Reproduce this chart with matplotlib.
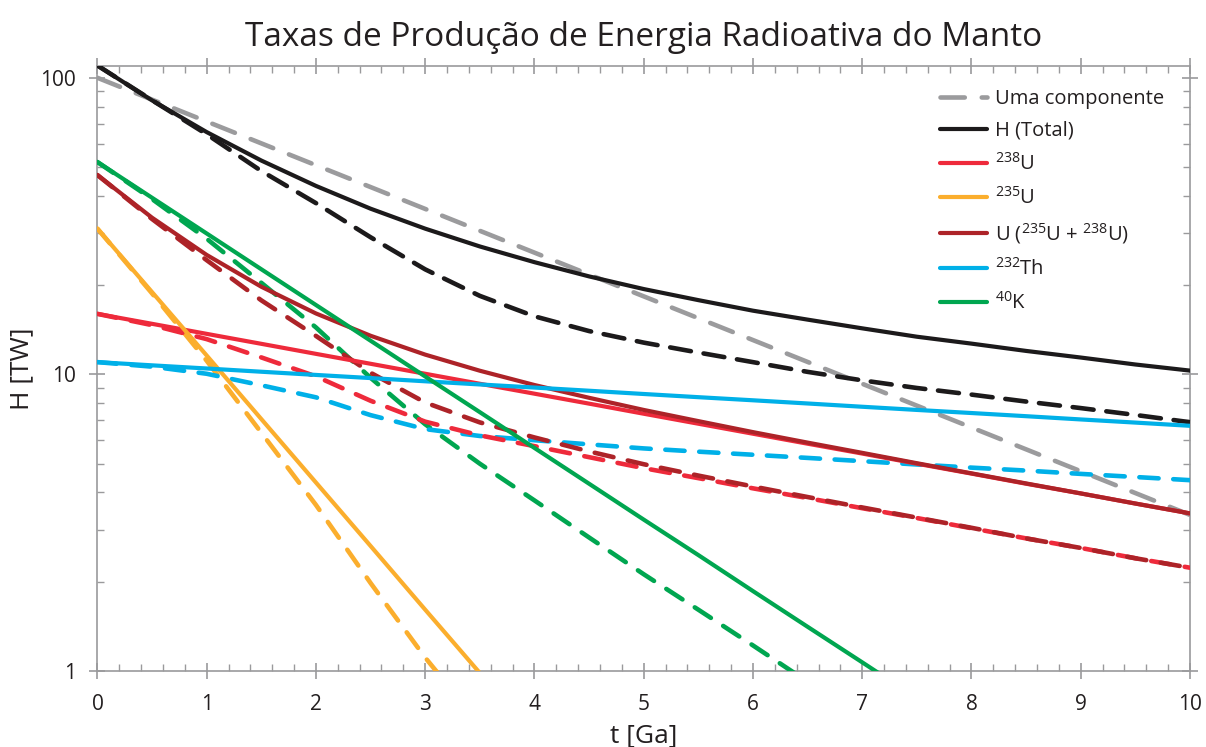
import matplotlib
matplotlib.use("Agg")
import matplotlib.pyplot as plt
from matplotlib.ticker import FixedLocator, MultipleLocator, LogLocator, NullFormatter, FixedFormatter

plt.rcParams['font.family'] = ['Open Sans', 'DejaVu Sans']
plt.rcParams['mathtext.fontset'] = 'custom'
plt.rcParams['mathtext.rm'] = 'Open Sans'

# ---- data ----
t = [0, 0.5, 1, 1.5, 2, 2.5, 3, 3.5, 4, 4.5, 5, 5.5, 6, 6.5, 7, 7.5, 8, 8.5, 9, 9.5, 10]

t_single = [0, 10]
h_single = [100, 3.36]

h_total = [110.0, 83.9, 65.6, 52.6, 43.2, 36.2, 31.0, 27.0, 23.9, 21.4, 19.4, 17.8, 16.4,
           15.3, 14.3, 13.4, 12.7, 12.0, 11.4, 10.8, 10.3]
u238 = [16.0, 14.81, 13.70, 12.68, 11.73, 10.86, 10.05, 9.30, 8.61, 7.97, 7.37, 6.82, 6.31,
        5.84, 5.41, 5.00, 4.63, 4.28, 3.97, 3.67, 3.40]
u235 = [31.0, 18.94, 11.58, 7.07, 4.32, 2.64, 1.61, 0.985, 0.60, 0.37, 0.22, 0.137, 0.084,
        0.051, 0.031, 0.019, 0.012, 0.007, 0.0043, 0.0026, 0.0016]
u_tot = [47.0, 33.75, 25.28, 19.75, 16.05, 13.50, 11.66, 10.29, 9.21, 8.34, 7.59, 6.96, 6.39,
         5.89, 5.44, 5.02, 4.64, 4.29, 3.97, 3.67, 3.40]
th232 = [11.0, 10.73, 10.47, 10.21, 9.96, 9.72, 9.48, 9.25, 9.03, 8.81, 8.59, 8.38, 8.18,
         7.98, 7.78, 7.59, 7.41, 7.23, 7.05, 6.88, 6.71]
k40 = [52.0, 39.40, 29.86, 22.62, 17.14, 12.99, 9.84, 7.46, 5.65, 4.28, 3.24, 2.46, 1.86,
       1.41, 1.07, 0.81, 0.61, 0.47, 0.35, 0.27, 0.20]

h_total_d = [110.0, 84.0, 64.5, 48.5, 37.8, 29.0, 22.6, 18.4, 15.7, 14.0, 12.8, 11.85, 11.0,
             10.2, 9.55, 9.0, 8.55, 8.1, 7.7, 7.3, 6.9]
u238_d = [16.0, 14.66, 13.15, 11.41, 9.85, 8.15, 6.93, 6.23, 5.73, 5.26, 4.83, 4.47, 4.13,
          3.83, 3.54, 3.28, 3.03, 2.80, 2.60, 2.40, 2.23]
u235_d = [31.0, 18.75, 11.12, 6.36, 3.63, 1.98, 1.11, 0.66, 0.40, 0.24, 0.146, 0.090, 0.055,
          0.033, 0.020, 0.012, 0.0079, 0.0048, 0.0028, 0.0017, 0.0010]
u_tot_d = [47.0, 33.41, 24.27, 17.77, 13.48, 10.13, 8.04, 6.89, 6.13, 5.50, 4.98, 4.56, 4.19,
           3.86, 3.56, 3.29, 3.04, 2.80, 2.60, 2.40, 2.23]
th232_d = [11.0, 10.62, 10.05, 9.19, 8.37, 7.29, 6.54, 6.20, 6.00, 5.81, 5.63, 5.49, 5.36,
           5.23, 5.10, 4.97, 4.85, 4.74, 4.62, 4.51, 4.40]
k40_d = [52.0, 39.01, 28.67, 20.36, 14.40, 9.74, 6.79, 5.00, 3.76, 2.82, 2.12, 1.61, 1.22,
         0.92, 0.70, 0.53, 0.40, 0.31, 0.23, 0.18, 0.13]

labels = ['Uma componente', 'H (Total)', r'$\mathregular{^{238}}$U', r'$\mathregular{^{235}}$U',
          r'U ($\mathregular{^{235}}$U + $\mathregular{^{238}}$U)', r'$\mathregular{^{232}}$Th',
          r'$\mathregular{^{40}}$K']

C_GREY = '#9b9b9d'
C_BLACK = '#1c1a1b'
C_RED = '#ee2a3b'
C_ORANGE = '#fbae2d'
C_DRED = '#ad2328'
C_BLUE = '#00b0e8'
C_GREEN = '#00a650'

fig = plt.figure(figsize=(12.06, 7.47), dpi=100)
ax = fig.add_axes([0.0808, 0.1017, 0.9059, 0.8106])

LW = 3.0
LWD = 3.3
dash_col = (4.2, 3.2)
dash_blk = (4.6, 2.8)
dash_gry = (5.3, 3.7)

# single-component model
hg, = ax.plot(t_single, h_single, color=C_GREY, lw=LWD, dashes=dash_gry,
              dash_capstyle='round', label=labels[0], zorder=2)

# dashed curves
dashed = [(u235_d, C_ORANGE), (k40_d, C_GREEN), (th232_d, C_BLUE),
          (u238_d, C_RED), (u_tot_d, C_DRED), (h_total_d, C_BLACK)]
for vals, c in dashed:
    ax.plot(t, vals, color=c, lw=LWD, dashes=dash_blk if c == C_BLACK else dash_col,
            dash_capstyle='round', zorder=3)

# solid curves
solid = [(h_total, C_BLACK), (u238, C_RED), (u235, C_ORANGE), (u_tot, C_DRED),
         (th232, C_BLUE), (k40, C_GREEN)]
handles = [hg]
for (vals, c), lab in zip(solid, labels[1:]):
    h, = ax.plot(t, vals, color=c, lw=LW, solid_capstyle='round', label=lab, zorder=4)
    handles.append(h)

ax.set_yscale('log')
ax.set_xlim(0, 10)
ax.set_ylim(1, 110)

ax.xaxis.set_major_locator(MultipleLocator(1))
ax.xaxis.set_minor_locator(MultipleLocator(0.2))
ax.yaxis.set_major_locator(FixedLocator([1, 10, 100]))
ax.yaxis.set_major_formatter(FixedFormatter(['1', '10', '100']))
ax.yaxis.set_minor_locator(LogLocator(base=10, subs=range(2, 10)))
ax.yaxis.set_minor_formatter(NullFormatter())

TC = '#9a9a9c'
for s in ax.spines.values():
    s.set_color(TC)
    s.set_linewidth(1.2)
ax.tick_params(which='major', direction='inout', length=11, width=1.2, color=TC,
               top=True, right=True, labelsize=15, labelcolor='#231f20')
ax.tick_params(axis='x', which='major', pad=11)
ax.tick_params(axis='y', which='major', pad=10)
ax.tick_params(which='minor', direction='in', length=5, width=1.0, color=TC,
               top=True, right=True)

ax.set_xlabel('t [Ga]', fontsize=19, color='#231f20', labelpad=6)
ax.set_ylabel('H [TW]', fontsize=19, color='#231f20', labelpad=4)
ax.set_title('Taxas de Produção de Energia Radioativa do Manto', fontsize=24,
             color='#231f20', pad=14)

leg = ax.legend(handles=handles, loc='upper left', bbox_to_anchor=(0.764, 0.975),
                frameon=False, fontsize=14.5, handlelength=2.3, handletextpad=0.4,
                labelspacing=0.6, borderaxespad=0)
for txt in leg.get_texts():
    txt.set_color('#231f20')

fig.savefig('out.png', dpi=100)
